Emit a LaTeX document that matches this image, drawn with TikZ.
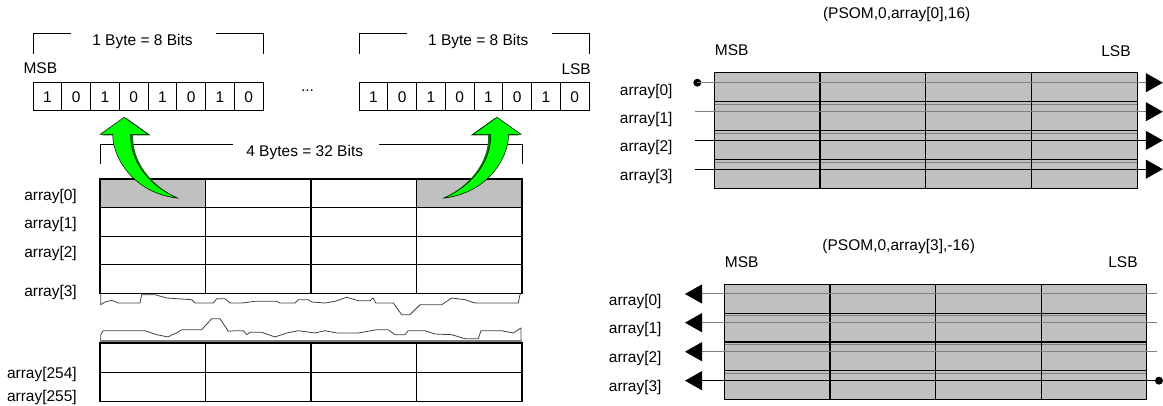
\documentclass[tikz,border=0pt]{standalone}
\usepackage{fontspec}
\setmainfont{Liberation Sans}
\usetikzlibrary{arrows.meta}
\definecolor{cellgray}{HTML}{C0C0C0}
\definecolor{linegray}{HTML}{808080}
\definecolor{arrowgreen}{HTML}{00FF00}
\definecolor{shadowgreen}{HTML}{007A00}

% curved "block" arrow from a byte cell up to the bit row
\newcommand\bytearrow[1]{%
  \path[#1] (124.3,117.3) -- (148.3,134.5) -- (130.7,134.5)
    .. controls (129.5,160) and (148,185) .. (176.7,197.7)
    .. controls (138,194) and (113,162) .. (112.7,134.5)
    -- (100,134.5) -- cycle;}

\begin{document}
\begin{tikzpicture}[x=1pt,y=-1pt,
  txt/.style={font=\fontsize{15.5}{18}\selectfont, inner sep=0pt,
              text height=11.1pt, text depth=0pt},
  bitcell/.style={txt, draw=black, line width=1pt, minimum width=28.75pt,
                  minimum height=28pt},
  grid/.style={line width=1.1pt, black},
  wave/.style={line width=0.8pt, black!75, line join=round},
  shiftline/.style={line width=1pt},
  dot/.style={circle, fill=black, inner sep=0pt, minimum size=8pt},
  tip/.style={-{Triangle[length=17pt,width=19pt,color=black]}},
  tipback/.style={{Triangle[length=17pt,width=19pt,color=black]}-},
]
\useasboundingbox (0,0) rectangle (1163,406);

% ---------------- left half: one byte in detail ----------------
\foreach \i/\b in {0/1,1/0,2/1,3/0,4/1,5/0,6/1,7/0} {
  \node[bitcell] (p\i) at ({33+28.75*\i+14.375},97) {\b};
  \node[bitcell] (q\i) at ({359+28.75*\i+14.375},97) {\b};
}
\node[txt] (msbL) at (40.3,68.3) {MSB};
\node[txt, anchor=east] (lsbL) at (591,69) {LSB};
\node[txt, anchor=base] (dots) at (307.5,92) {...};

% byte brackets
\node[txt] (byte1) at (142.5,40) {1 Byte = 8 Bits};
\draw[line width=1pt] (33,54) -- (33,34) -- (71,34);
\draw[line width=1pt] (216,34) -- (263,34) -- (263,54);
\node[txt] (byte2) at (478.3,40) {1 Byte = 8 Bits};
\draw[line width=1pt] (359,54) -- (359,34) -- (406.7,34);
\draw[line width=1pt] (551.7,34) -- (589,34) -- (589,54);

% word bracket
\node[txt] (word) at (304.7,150.7) {4 Bytes = 32 Bits};
\draw[line width=1pt] (100,164.3) -- (100,145) -- (233.3,145);
\draw[line width=1pt] (379.3,145) -- (522,145) -- (522,164.3);

% array of 32-bit words
\fill[cellgray] (100,179) rectangle (205.5,207.6);
\fill[cellgray] (416.5,179) rectangle (522,207.6);
\draw[grid] (100,179) rectangle (522,293.5);
\foreach \y in {207.6,236.2,264.8} \draw[grid] (100,\y) -- (522,\y);
\foreach \x in {205.5,311,416.5} \draw[grid] (\x,179) -- (\x,293.5);

\draw[grid] (100,343) rectangle (522,401.5);
\draw[grid] (100,372.2) -- (522,372.2);
\foreach \x in {205.5,311,416.5} \draw[grid] (\x,343) -- (\x,401.5);

% torn edges marking the omitted rows
\draw[wave] (100.7,293.5) -- (100.7,304.7) -- (105,302) -- (111.7,300.3) -- (118.3,303)
  -- (140,303) -- (141.7,294.7) -- (155,294.7) -- (166.7,298) -- (191.7,299.7)
  -- (195,303) -- (213.3,303) -- (216.7,298.7) -- (225,298.7) -- (230,303)
  -- (241.7,303) -- (255,301.3) -- (276.7,301.3) -- (280,303) -- (295,303)
  -- (298.3,299.7) -- (308.3,299.7) -- (311.7,302) -- (325,303) -- (335,301.3)
  -- (346.7,297.3) -- (358.3,300.7) -- (370,300.7) -- (373.3,298) -- (375.7,303)
  -- (393.3,303) -- (401.7,314.7) -- (410,314.7) -- (420,304.7) -- (441.7,304.7)
  -- (451.7,298) -- (465,299.7) -- (475,303) -- (518.3,303) -- (520,294.7) -- (521,293.5);
\draw[wave] (100.7,341) -- (100.7,334.7) -- (103.3,330.7) -- (145,330.7) -- (156.7,334.7)
  -- (168.3,337) -- (171.7,334.7) -- (176.7,333) -- (181.7,329.7) -- (201.7,329.7)
  -- (211.7,318.7) -- (220,318.7) -- (228.3,331.3) -- (235,330.7) -- (243.3,330.7)
  -- (246.7,334.7) -- (250,332.3) -- (261.7,332.3) -- (275,337) -- (286.7,333)
  -- (298.3,330.7) -- (315,333) -- (325,330.7) -- (336.7,333) -- (358.3,333)
  -- (376.7,329.7) -- (388.3,329.7) -- (395,334.7) -- (405,334.7) -- (408.3,330.7)
  -- (425,330.7) -- (435,334) -- (451.7,334.7) -- (465,338.7) -- (478.3,338.7)
  -- (481,330.7) -- (501.7,330.7) -- (513.3,333) -- (521,328) -- (521,341);
\draw[linegray, line width=2pt] (100,341) -- (522,341);

% row labels
\foreach \n/\t/\y in {l0/array[0]/195, l1/array[1]/223, l2/array[2]/251.7,
                      l3/array[3]/291.3, l254/array[254]/373.3, l255/array[255]/395.7}
  \node[txt, anchor=east] (\n) at (77,\y) {\t};

% green arrows from the MSB / LSB byte to the bit rows
\begin{scope}
  \bytearrow{fill=shadowgreen, shift={(2.5,1)}}
  \bytearrow{fill=arrowgreen, draw=black, line width=0.5pt}
\end{scope}
\begin{scope}[shift={(621.3,0)}, xscale=-1]
  \bytearrow{fill=shadowgreen, shift={(2.5,1)}}
  \bytearrow{fill=arrowgreen, draw=black, line width=0.5pt}
\end{scope}

% ---------------- right top: shift by +16 ----------------
\node[txt] (titleA) at (896.7,13) {(PSOM,0,array[0],16)};
\node[txt] (msbA) at (731.7,50) {MSB};
\node[txt] (lsbA) at (1116,51) {LSB};
\fill[cellgray] (714.3,72.7) rectangle (1137.3,188.3);
\foreach \y in {101.6,130.5,159.4} {
  \draw[grid] (714.3,\y) -- (1137.3,\y);
  \draw[linegray, line width=0.8pt] (714.3,\y+2.6) -- (1137.3,\y+2.6);
}
\foreach \x in {820,925.8,1031.5} \draw[grid] (\x,72.7) -- (\x,188.3);
\draw[grid] (714.3,72.7) rectangle (1137.3,188.3);

\foreach \n/\t/\y in {a0/array[0]/90, a1/array[1]/117.7, a2/array[2]/145.7, a3/array[3]/175}
  \node[txt, anchor=east] (\n) at (672.7,\y) {\t};

\node[dot] (sA) at (697.3,82.7) {};
\coordinate (sA1) at (695,111.7);
\coordinate (sA2) at (695,140.4);
\coordinate (sA3) at (695,169.2);
\coordinate (eA0) at (1162.8,82.7);
\coordinate (eA1) at (1162.8,111.7);
\coordinate (eA2) at (1162.8,140.4);
\coordinate (eA3) at (1162.8,169.2);
\draw[shiftline, linegray, tip] (sA.center) -- (eA0);
\draw[shiftline, linegray, tip] (sA1) -- (eA1);
\draw[shiftline, black, tip] (sA2) -- (eA2);
\draw[shiftline, black, tip] (sA3) -- (eA3);

% ---------------- right bottom: shift by -16 ----------------
\node[txt] (titleB) at (898.7,245) {(PSOM,0,array[3],-16)};
\node[txt] (msbB) at (741.7,261.7) {MSB};
\node[txt] (lsbB) at (1123,262) {LSB};
\fill[cellgray] (724.3,284.3) rectangle (1146.7,399.5);
\foreach \y in {313.2,342,370.8} {
  \draw[grid] (724.3,\y) -- (1146.7,\y);
  \draw[linegray, line width=0.8pt] (724.3,\y+2.6) -- (1146.7,\y+2.6);
}
\foreach \x in {830,935.7,1041.5} \draw[grid] (\x,284.3) -- (\x,399.5);
\draw[grid] (724.3,284.3) rectangle (1146.7,399.5);

\foreach \n/\t/\y in {b0/array[0]/300, b1/array[1]/328.3, b2/array[2]/356.7, b3/array[3]/385.7}
  \node[txt, anchor=east] (\n) at (661.7,\y) {\t};

\coordinate (sB0) at (1156.7,294);
\coordinate (sB1) at (1156.7,322.7);
\coordinate (sB2) at (1156.7,351.7);
\node[dot] (sB3) at (1159,380.7) {};
\coordinate (eB0) at (685,294);
\coordinate (eB1) at (685,322.7);
\coordinate (eB2) at (685,351.7);
\coordinate (eB3) at (685,380.7);
\draw[shiftline, linegray, tip] (sB0) -- (eB0);
\draw[shiftline, linegray, tip] (sB1) -- (eB1);
\draw[shiftline, linegray, tip] (sB2) -- (eB2);
\draw[shiftline, black, tip] (sB3.center) -- (eB3);
\end{tikzpicture}
\end{document}
